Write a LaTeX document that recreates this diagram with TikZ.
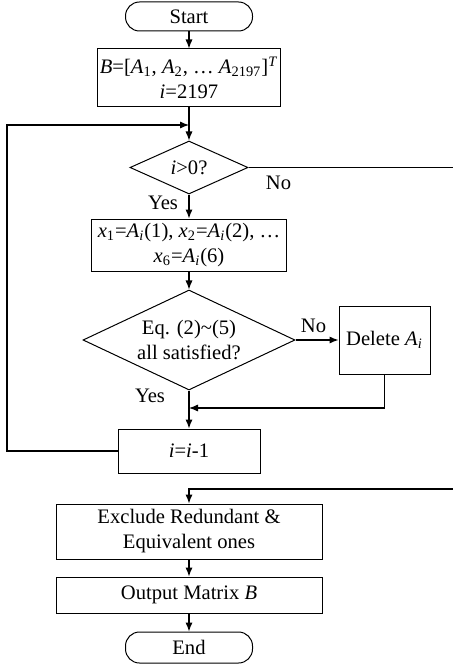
\documentclass[tikz,border=0pt]{standalone}
\usepackage{fontspec}
\setmainfont{Liberation Serif}
\usetikzlibrary{arrows.meta, shapes.geometric}

\newcommand{\vA}[1]{\textit{A}\textsubscript{#1}}
\newcommand{\vx}[1]{\textit{x}\textsubscript{#1}}

\begin{document}
\begin{tikzpicture}[x=5pt, y=-5pt,
  font=\fontsize{10.3}{12.5}\selectfont,
  every node/.style={inner sep=1pt},
  line/.style={line width=0.6pt},
  arr/.style={line, -{Latex[length=4.5pt,width=3.6pt]}},
  terminal/.style={draw, line width=0.5pt, rounded corners=7pt, minimum width=63.5pt},
  stepbox/.style={draw, line width=0.5pt, align=center},
  decision/.style={draw, line width=0.5pt, diamond, aspect=2, inner sep=0pt, align=center}]

\useasboundingbox (0,0) rectangle (45.3,66.8);

\node [terminal, minimum height=14.5pt] (start) at (18.9,1.65) {Start};
\node [stepbox, minimum width=91pt, minimum height=29pt] (init) at (18.9,7.8)
  {\textit{B}=[\vA{1}, \vA{2}, \ldots\ \vA{2197}]\textsuperscript{\textit{T}}\\\textit{i}=2197};
\node [decision, minimum width=59pt, minimum height=26.5pt] (test) at (18.9,16.75) {\textit{i}>0?};
\node [stepbox, minimum width=97.5pt, minimum height=26pt] (assign) at (18.9,24.5)
  {\vx{1}=\vA{\textit{i}}(1), \vx{2}=\vA{\textit{i}}(2), \ldots\\\vx{6}=\vA{\textit{i}}(6)};
\node [decision, minimum width=106pt, minimum height=50pt] (check) at (18.9,34)
  {Eq. (2)\textasciitilde(5)\\all satisfied?};
\node [stepbox, minimum width=45.5pt, minimum height=34pt] (delete) at (38.45,34) {Delete \vA{\textit{i}}};
\node [stepbox, minimum width=71pt, minimum height=22pt] (update) at (18.9,45.1) {\textit{i}=\textit{i}-1};
\node [stepbox, minimum width=133pt, minimum height=27.5pt] (exclude) at (18.9,53.15)
  {Exclude Redundant \&\\Equivalent ones};
\node [stepbox, minimum width=133pt, minimum height=18pt] (output) at (18.9,59.5) {Output Matrix \textit{B}};
\node [terminal, minimum height=15.5pt] (end) at (18.9,64.75) {End};

\node (no1) at (27.85,18.3) {No};
\node (yes1) at (16.3,20.3) {Yes};
\node (no2) at (31.35,32.6) {No};
\node (yes2) at (15.0,39.6) {Yes};

\coordinate (join) at (18.9,12.5);
\coordinate (merge) at (18.9,40.8);
\coordinate (loopL) at (0.7,45.1);
\coordinate (edgeA) at (45.3,16.75);
\coordinate (edgeB) at (45.3,48.9);

\draw [arr] (start) -- (init);
\draw [arr] (init) -- (test);
\draw [arr] (test) -- (assign);
\draw [arr] (assign) -- (check);
\draw [arr] (check) -- (delete);
\draw [arr] (check) -- (update);
\draw [arr] (delete) |- (merge);
\draw [arr] (update) -- (loopL) |- (join);
\draw [line] (test) -- (edgeA);
\draw [arr] (edgeB) -| (exclude);
\draw [arr] (exclude) -- (output);
\draw [arr] (output) -- (end);
\end{tikzpicture}
\end{document}
